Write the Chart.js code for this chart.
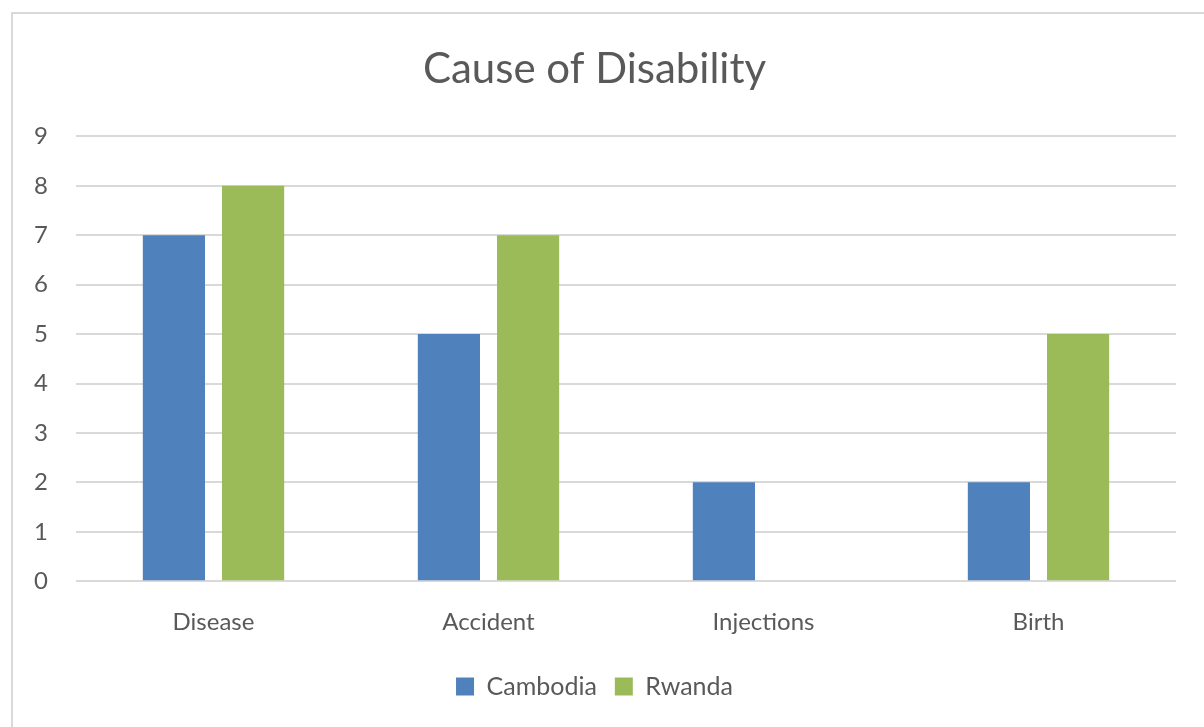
<!DOCTYPE html>
<html>
<head>
<meta charset="utf-8">
<script src="https://cdn.jsdelivr.net/npm/chart.js@4"></script>
<style>
  html, body { margin: 0; padding: 0; background: #fff; overflow: hidden; }
  #wrap {
    position: absolute; left: 11px; top: 12px;
    width: 1193px; height: 715px;
    border-left: 2px solid #d9d9d9; border-top: 2px solid #d9d9d9;
  }
</style>
</head>
<body>
<div id="wrap"><canvas id="mainChart"></canvas></div>
<script>
const main = document.getElementById("mainChart");

let causes = ["Disease", "Accident", "Injections", "Birth"];
let cambodia = [7, 5, 2, 2];
let rwanda = [8, 7, 0, 5];
let yTicks = [0, 1, 2, 3, 4, 5, 6, 7, 8, 9];

const textColor = "#595959";
const font = "Lato, 'Open Sans', sans-serif";

new Chart(main, {
    type: "bar",
    data: {
        labels: causes,
        datasets: [{
            label: "Cambodia",
            backgroundColor: "#4F81BD",
            data: cambodia
        }, {
            label: "Rwanda",
            backgroundColor: "#9BBB59",
            data: rwanda
        }]
    },
    options: {
        responsive: true,
        maintainAspectRatio: false,
        animation: false,
        categoryPercentage: 0.576,
        barPercentage: 0.785,
        layout: { padding: { left: 0, right: 30, top: 0, bottom: 20 } },
        plugins: {
            title: {
                display: true,
                text: "Cause of Disability",
                color: textColor,
                font: { family: font, size: 42, weight: "normal" },
                padding: { top: 30, bottom: 42 }
            },
            legend: {
                position: "bottom",
                labels: {
                    color: textColor,
                    font: { family: font, size: 25 },
                    boxWidth: 18,
                    boxHeight: 18,
                    padding: 18
                }
            },
            tooltip: { enabled: false }
        },
        scales: {
            x: {
                grid: { display: false },
                border: { display: false },
                ticks: {
                    color: textColor,
                    font: { family: font, size: 24 },
                    padding: 19
                }
            },
            y: {
                min: 0,
                max: 9,
                afterBuildTicks: (s) => { s.ticks = yTicks.map(v => ({ value: v })); },
                afterFit: (s) => { s.width = 63; },
                grid: { color: "#d9d9d9", lineWidth: 2, drawTicks: false },
                border: { display: false },
                ticks: {
                    color: textColor,
                    font: { family: font, size: 24 },
                    padding: 28
                }
            }
        }
    }
});
</script>
</body>
</html>
